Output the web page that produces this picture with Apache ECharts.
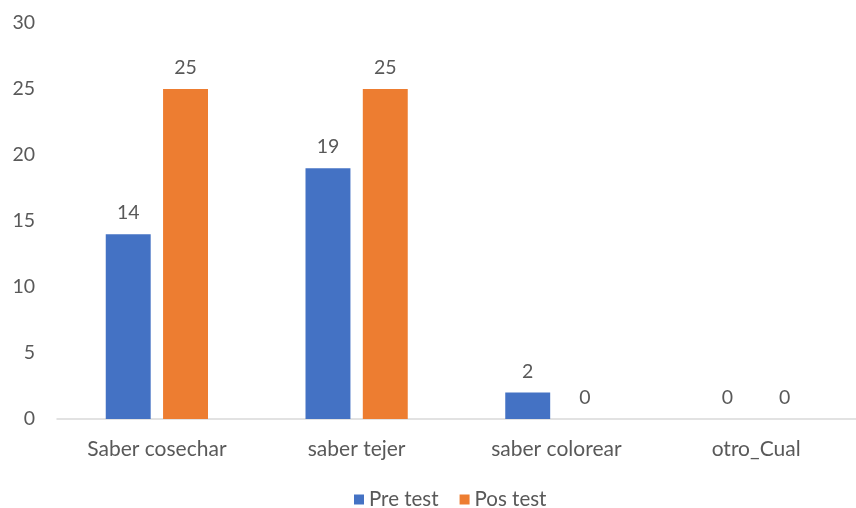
<!DOCTYPE html>
<html><head><meta charset="utf-8">
<script src="https://cdn.jsdelivr.net/npm/echarts@6/dist/echarts.min.js"></script>
<style>html,body{margin:0;padding:0;background:#fff}#c{width:856px;height:508px}</style>
</head><body><div id="c"></div>
<script>
const categories = ["Saber cosechar", "saber tejer", "saber colorear", "otro_Cual"];
const preTest = [14, 19, 2, 0];
const posTest = [25, 25, 0, 0];
const seriesNames = ["Pre test", "Pos test"];
const yTicks = {min: 0, max: 30, interval: 5};

const FONT = "Lato";
const TXT = "#595959";
const chart = echarts.init(document.getElementById('c'), null, {renderer: 'canvas'});
const lbl = {show: true, position: 'top', distance: 11, color: TXT, fontSize: 19.5, fontFamily: FONT};
chart.setOption({
  animation: false,
  textStyle: {fontFamily: FONT},
  grid: {left: 57, top: 23, width: 810, height: 396, containLabel: false},
  legend: {
    top: 484, left: 349, itemWidth: 10, itemHeight: 10, itemGap: 21,
    icon: 'rect', textStyle: {color: TXT, fontSize: 20.5, fontFamily: FONT},
    data: seriesNames
  },
  xAxis: {
    type: 'category', data: categories,
    axisLine: {lineStyle: {color: '#d9d9d9', width: 1.5}},
    axisTick: {show: false},
    axisLabel: {color: TXT, fontSize: 21, fontFamily: FONT, margin: 20}
  },
  yAxis: {
    type: 'value', min: yTicks.min, max: yTicks.max, interval: yTicks.interval,
    splitLine: {show: false}, axisLine: {show: false}, axisTick: {show: false},
    axisLabel: {color: TXT, fontSize: 19.5, fontFamily: FONT, margin: 22}
  },
  series: [
    {name: seriesNames[0], type: 'bar', data: preTest, barWidth: '22.5%', barGap: '27.5%',
     itemStyle: {color: '#4472c4'}, label: lbl},
    {name: seriesNames[1], type: 'bar', data: posTest, barWidth: '22.5%', barGap: '27.5%',
     itemStyle: {color: '#ed7d31'}, label: lbl}
  ]
});
</script></body></html>
